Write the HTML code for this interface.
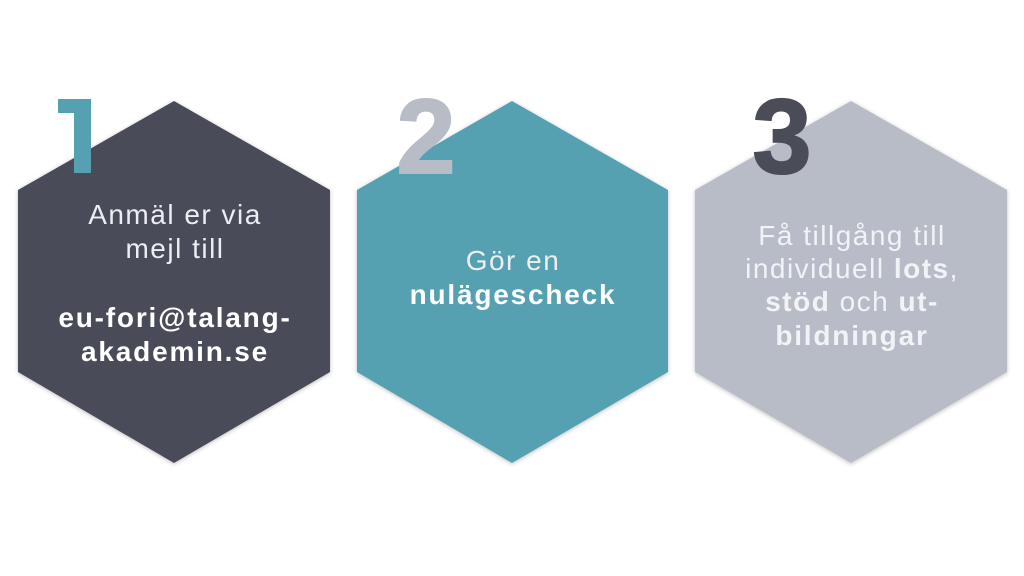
<!DOCTYPE html>
<html><head><meta charset="utf-8"><style>
html,body{margin:0;padding:0;background:#fff;width:1024px;height:576px;overflow:hidden}
svg{display:block}
text{font-family:"Liberation Sans",sans-serif}
</style></head><body>
<svg width="1024" height="576" viewBox="0 0 1024 576">
<defs><filter id="sh" x="-10%" y="-10%" width="120%" height="120%"><feDropShadow dx="0" dy="1" stdDeviation="2" flood-opacity="0.25"/></filter></defs>
<polygon filter="url(#sh)" fill="#4a4c58" points="174,101 330,190 330,372 174,463 18,372 18,190"/>
<polygon filter="url(#sh)" fill="#55a1b1" points="512,101 668,190 668,372 512,463 357,372 357,190"/>
<polygon filter="url(#sh)" fill="#b8bcc7" points="851,101 1007,190 1007,372 851,463 695,372 695,190"/>
<polygon fill="#55a1b1" points="58,99 91,99 91,173 74,173 74,113 58,113"/>
<text x="426" y="173" font-size="106" font-weight="bold" fill="#b8bcc7" text-anchor="middle" stroke="#b8bcc7" stroke-width="2">2</text>
<text x="782" y="173" font-size="106" font-weight="bold" fill="#4a4c58" text-anchor="middle" stroke="#4a4c58" stroke-width="2">3</text>
<g font-size="28" fill="#eceef2" text-anchor="middle" letter-spacing="1.5">
<text x="175" y="224">Anmäl er via</text>
<text x="175" y="258">mejl till</text>
<text x="175" y="327" font-weight="bold" fill="#fff" letter-spacing="1.8">eu-fori@talang-</text>
<text x="175" y="361" font-weight="bold" fill="#fff" letter-spacing="1.8">akademin.se</text>
<text x="513" y="270">Gör en</text>
<text x="513" y="304" font-weight="bold" fill="#fff" letter-spacing="1.8">nulägescheck</text>
<text x="852" y="245" fill="#f2f3f6">Få tillgång till</text>
<text x="852" y="278" fill="#f2f3f6">individuell <tspan font-weight="bold">lots</tspan>,</text>
<text x="852" y="311" fill="#f2f3f6"><tspan font-weight="bold">stöd</tspan> och <tspan font-weight="bold">ut-</tspan></text>
<text x="852" y="345" font-weight="bold" fill="#f2f3f6" letter-spacing="1.8">bildningar</text>
</g>
</svg>
</body></html>
